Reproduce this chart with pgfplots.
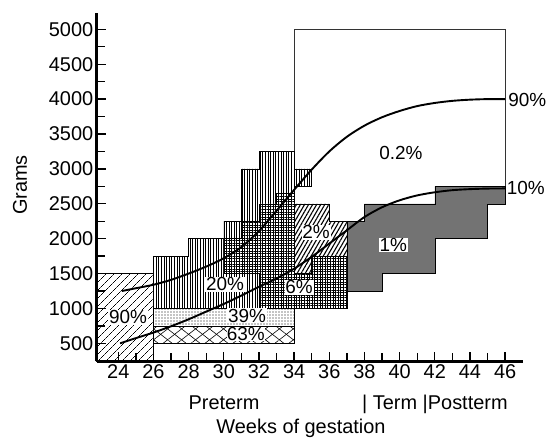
\documentclass[border=0pt]{standalone}
\usepackage{fontspec}
\setmainfont{Liberation Sans}
\usepackage{pgfplots}
\pgfplotsset{compat=1.18}
\usetikzlibrary{patterns.meta}

\begin{document}
\begin{tikzpicture}[x=1bp,y=1bp]
\useasboundingbox (0,0) rectangle (554,438);
\begin{axis}[
  at={(96.7bp,76.5bp)}, anchor=south west,
  scale only axis, width=426.3bp, height=348.2bp,
  xmin=22.77, xmax=47.02, ymin=240, ymax=5230,
  axis lines*=left,
  axis line style={line width=3.5bp},
  axis on top,
  clip=false,
  xtick={24,26,...,46}, minor xtick={25,27,...,45},
  xticklabels={24,26,28,30,32,34,36,38,40,42,44,46},
  ytick={500,1000,...,5000}, minor ytick={750,1250,...,4750},
  yticklabels={500,1000,1500,2000,2500,3000,3500,4000,4500,5000},
  tick align=inside,
  major tick length=9bp, minor tick length=8bp,
  every tick/.style={black, line width=1.3bp},
  tick label style={font=\fontsize{20}{24}\selectfont},
]
% 0.2% outline
\addplot[line width=0.5bp, black!80] coordinates {(34,2650) (34,5000) (46,5000) (46,2500)};
% 90% region
\addplot[draw=black, line width=0.5bp, fill=white,
  postaction={pattern={Lines[angle=45,distance=6bp,line width=0.6bp]}}]
  coordinates {(22.77,240) (26,240) (26,1500) (22.77,1500)} -- cycle;
% white box left edge
\addplot[line width=0.5bp, black] coordinates {(26,240) (26,500)};
% 63% region
\addplot[draw=black, line width=0.5bp, fill=white,
  postaction={pattern={Lines[angle=38,distance=8.6bp,line width=0.6bp]}},
  postaction={pattern={Lines[angle=-38,distance=8.6bp,line width=0.6bp]}}]
  coordinates {(26,500) (34,500) (34,750) (26,750)} -- cycle;
% 39% region
\addplot[draw=black, line width=0.5bp, fill=white,
  postaction={pattern={Dots[distance=3bp,radius=0.65bp]}}]
  coordinates {(26,750) (34,750) (34,1000) (26,1000)} -- cycle;
% 20% region
\addplot[draw=black, line width=0.5bp, fill=white,
  postaction={pattern={Lines[angle=90,distance=2.6bp,line width=0.55bp]}}]
  coordinates {(26,1000) (34,1000) (34,2750) (35,2750) (35,3000) (34,3000) (34,3250)
               (32,3250) (32,3000) (31,3000) (31,2250) (30,2250) (30,2000)
               (28,2000) (28,1750) (26,1750)} -- cycle;
% 6% region
\addplot[draw=black, line width=0.5bp, fill=white,
  postaction={pattern={Hatch[angle=0,distance=2.6bp,line width=0.45bp]}}]
  coordinates {(30,1500) (32,1500) (32,1000) (37,1000) (37,1750) (35,1750) (35,1500)
               (34,1500) (34,2650) (33,2650) (33,2500) (32,2500) (32,2250)
               (31,2250) (31,2000) (30,2000)} -- cycle;
% 2% region
\addplot[draw=black, line width=0.5bp, fill=white,
  postaction={pattern={Lines[angle=60,distance=3.5bp,line width=1.1bp]}}]
  coordinates {(34,1500) (35,1500) (35,1750) (37,1750) (37,2250) (36,2250) (36,2500) (34,2500)} -- cycle;
% 1% region
\addplot[draw=black, line width=0.5bp, fill=black!55]
  coordinates {(37,1250) (39,1250) (39,1500) (42,1500) (42,2000) (45,2000) (45,2500)
               (46,2500) (46,2750) (42,2750) (42,2500) (38,2500) (38,2250) (37,2250)} -- cycle;
% 90th percentile curve
\addplot[black, line width=1.9bp, smooth] coordinates {
 (24.2,1250) (25,1290) (26,1340) (27,1410) (28,1500) (29,1600) (30,1720) (31,1880)
 (32,2110) (33,2400) (34,2700) (35,2990) (36,3250) (37,3460) (38,3620) (39,3740)
 (40,3830) (41,3900) (42,3945) (43,3975) (44,3992) (45,4000) (46,4000)};
% 10th percentile curve
\addplot[black, line width=1.9bp, smooth] coordinates {
 (24.1,500) (25,575) (26,655) (27,745) (28,845) (29,955) (30,1065) (31,1185)
 (32,1310) (33,1430) (34,1570) (35,1740) (36,1930) (37,2120) (38,2310) (39,2450)
 (40,2550) (41,2620) (42,2665) (43,2695) (44,2710) (45,2718) (46,2720)};
% labels
\begin{scope}[every node/.style={font=\fontsize{19}{22}\selectfont, inner sep=0.8bp}]
\node[fill=white] at (axis cs:24.55,877) {90\%};
\node[fill=white] at (axis cs:30.07,1350) {20\%};
\node[fill=white] at (axis cs:31.32,893) {39\%};
\node[fill=white, inner sep=0.3bp] at (axis cs:31.25,628) {63\%};
\node[fill=white] at (axis cs:34.28,1307) {6\%};
\node[fill=white] at (axis cs:35.25,2095) {2\%};
\node[fill=white] at (axis cs:39.64,1909) {1\%};
\node at (axis cs:40.08,3226) {0.2\%};
\node[anchor=west, inner sep=3bp] at (axis cs:46,3985) {90\%};
\node[anchor=west, inner sep=1.5bp] at (axis cs:46,2725) {10\%};
\end{scope}
\end{axis}
\begin{scope}[every node/.style={font=\fontsize{20}{24}\selectfont, inner sep=0pt}]
\node[anchor=base] at (224,28.7) {Preterm};
\node[anchor=base west] at (362,28.7) {| Term |Postterm};
\node[anchor=base] at (301,4.5) {Weeks of gestation};
\node[rotate=90] at (20,253) {Grams};
\end{scope}
\end{tikzpicture}
\end{document}
